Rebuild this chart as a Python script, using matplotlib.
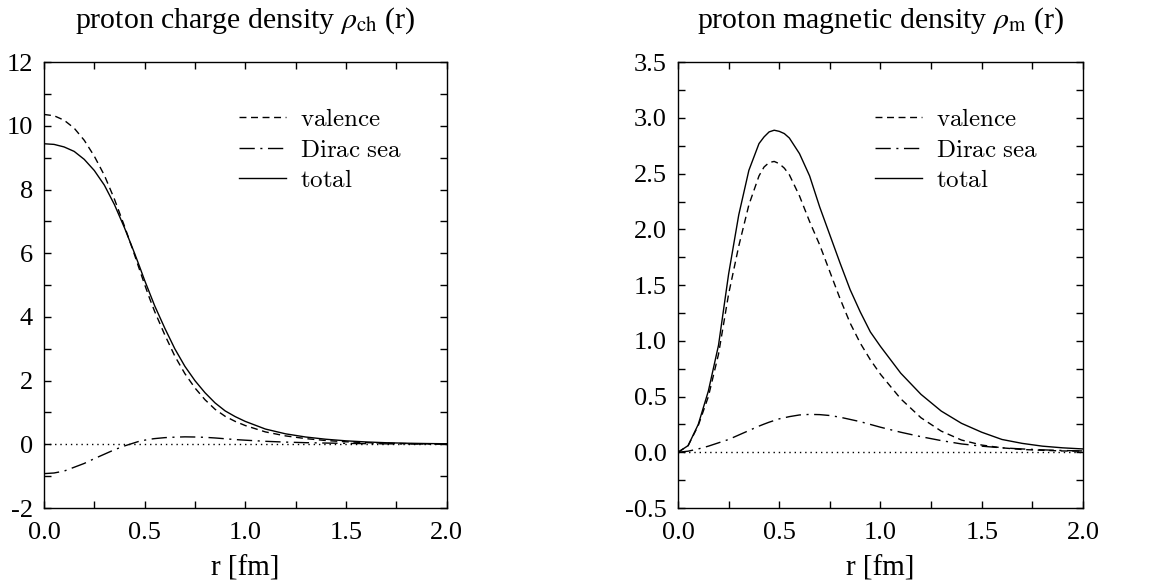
import matplotlib
matplotlib.use("Agg")
import matplotlib.pyplot as plt
from matplotlib.font_manager import FontProperties
from matplotlib.ticker import MultipleLocator, FormatStrFormatter

# ---------------- data ----------------
r = [0.0, 0.05, 0.1, 0.15, 0.2, 0.25, 0.3, 0.35, 0.4, 0.425, 0.45, 0.475, 0.5, 0.525,
     0.55, 0.6, 0.65, 0.7, 0.75, 0.8, 0.85, 0.9, 0.95, 1.0, 1.1, 1.2, 1.3, 1.4, 1.5,
     1.6, 1.7, 1.8, 1.9, 2.0]

charge_valence = [10.36, 10.32, 10.18, 9.93, 9.55, 9.05, 8.45, 7.7, 6.85, 6.4, 5.95,
                  5.48, 5.02, 4.58, 4.17, 3.44, 2.77, 2.22, 1.77, 1.4, 1.1, 0.88, 0.72,
                  0.59, 0.39, 0.265, 0.18, 0.12, 0.08, 0.053, 0.035, 0.023, 0.015, 0.01]
charge_sea = [-0.92, -0.9, -0.84, -0.72, -0.6, -0.45, -0.31, -0.17, -0.05, 0.0, 0.05,
              0.1, 0.13, 0.16, 0.18, 0.21, 0.225, 0.235, 0.23, 0.22, 0.2, 0.175, 0.15,
              0.13, 0.095, 0.07, 0.052, 0.04, 0.03, 0.022, 0.016, 0.012, 0.009, 0.007]
charge_total = [9.44, 9.42, 9.34, 9.2, 8.95, 8.6, 8.14, 7.53, 6.8, 6.4, 6.0, 5.58, 5.15,
                4.75, 4.35, 3.65, 3.0, 2.45, 2.0, 1.62, 1.3, 1.05, 0.87, 0.72, 0.48,
                0.33, 0.23, 0.16, 0.11, 0.075, 0.05, 0.035, 0.025, 0.018]

mag_valence = [0.0, 0.06, 0.24, 0.5, 0.88, 1.42, 1.85, 2.22, 2.48, 2.56, 2.6, 2.61,
               2.59, 2.55, 2.49, 2.3, 2.07, 1.86, 1.62, 1.38, 1.16, 0.98, 0.83, 0.70,
               0.48, 0.31, 0.19, 0.11, 0.065, 0.04, 0.025, 0.018, 0.012, 0.01]
mag_sea = [0.0, 0.01, 0.03, 0.055, 0.085, 0.115, 0.155, 0.195, 0.235, 0.253, 0.27,
           0.285, 0.30, 0.31, 0.32, 0.335, 0.34, 0.338, 0.33, 0.315, 0.295, 0.275,
           0.25, 0.225, 0.18, 0.14, 0.105, 0.075, 0.055, 0.04, 0.03, 0.022, 0.016, 0.012]
mag_total = [0.0, 0.06, 0.25, 0.55, 0.96, 1.6, 2.13, 2.53, 2.77, 2.83, 2.875, 2.89,
             2.88, 2.86, 2.82, 2.68, 2.48, 2.2, 1.95, 1.7, 1.46, 1.26, 1.08, 0.95,
             0.71, 0.52, 0.37, 0.26, 0.18, 0.115, 0.08, 0.055, 0.04, 0.03]

labels = ["valence", "Dirac sea", "total"]
titles = [r"proton charge density $\rho_{\rm ch}$ (r)",
          r"proton magnetic density $\rho_{\rm m}$ (r)"]
xlabel = "r [fm]"

# ---------------- style ----------------
plt.rcParams["font.family"] = ["Liberation Serif", "DejaVu Serif"]
plt.rcParams["axes.unicode_minus"] = False

fig = plt.figure(figsize=(11.57, 5.85), dpi=100)
axL = fig.add_axes([0.038, 0.1316, 0.348, 0.762])
axR = fig.add_axes([0.586, 0.1316, 0.350, 0.762])

dash = (0, (5, 3.3))
dashdot = (0, (11, 4, 1.5, 4))
lw = 1.0

leg_font = FontProperties(family="DejaVu Serif", size=18, math_fontfamily="cm")

def draw(ax, val, sea, tot, ylim, ymaj, ymin, fmt, title):
    ax.plot([0, 2], [0, 0], color="black", lw=1.0, linestyle=(0, (1, 2.8)))
    l1, = ax.plot(r, val, color="black", lw=lw, linestyle=dash)
    l2, = ax.plot(r, sea, color="black", lw=lw, linestyle=dashdot)
    l3, = ax.plot(r, tot, color="black", lw=lw, linestyle="-")
    ax.set_xlim(0, 2)
    ax.set_ylim(*ylim)
    ax.xaxis.set_major_locator(MultipleLocator(0.5))
    ax.xaxis.set_minor_locator(MultipleLocator(0.25))
    ax.yaxis.set_major_locator(MultipleLocator(ymaj))
    ax.yaxis.set_minor_locator(MultipleLocator(ymin))
    ax.xaxis.set_major_formatter(FormatStrFormatter("%.1f"))
    ax.yaxis.set_major_formatter(FormatStrFormatter(fmt))
    ax.tick_params(which="both", direction="in", top=True, right=True,
                   length=5, width=1.0, labelsize=19)
    ax.tick_params(axis="y", pad=8)
    ax.tick_params(axis="x", pad=10)
    for s in ax.spines.values():
        s.set_linewidth(1.0)
    ax.set_xlabel(xlabel, fontsize=21, labelpad=8)
    ax.set_title(title, fontsize=21.5, pad=25, math_fontfamily="stix")
    ax.legend([l1, l2, l3],
              [r"$\mathrm{valence}$", r"$\mathrm{Dirac\ sea}$", r"$\mathrm{total}$"],
              loc="upper right", frameon=False, prop=leg_font, borderpad=0,
              handlelength=1.9, handletextpad=0.55, labelspacing=0.3,
              bbox_to_anchor=(0.92, 0.925))

draw(axL, charge_valence, charge_sea, charge_total, (-2, 12), 2, 1, "%d", titles[0])
draw(axR, mag_valence, mag_sea, mag_total, (-0.5, 3.5), 0.5, 0.25, "%.1f", titles[1])

fig.savefig("out.png", dpi=100)
